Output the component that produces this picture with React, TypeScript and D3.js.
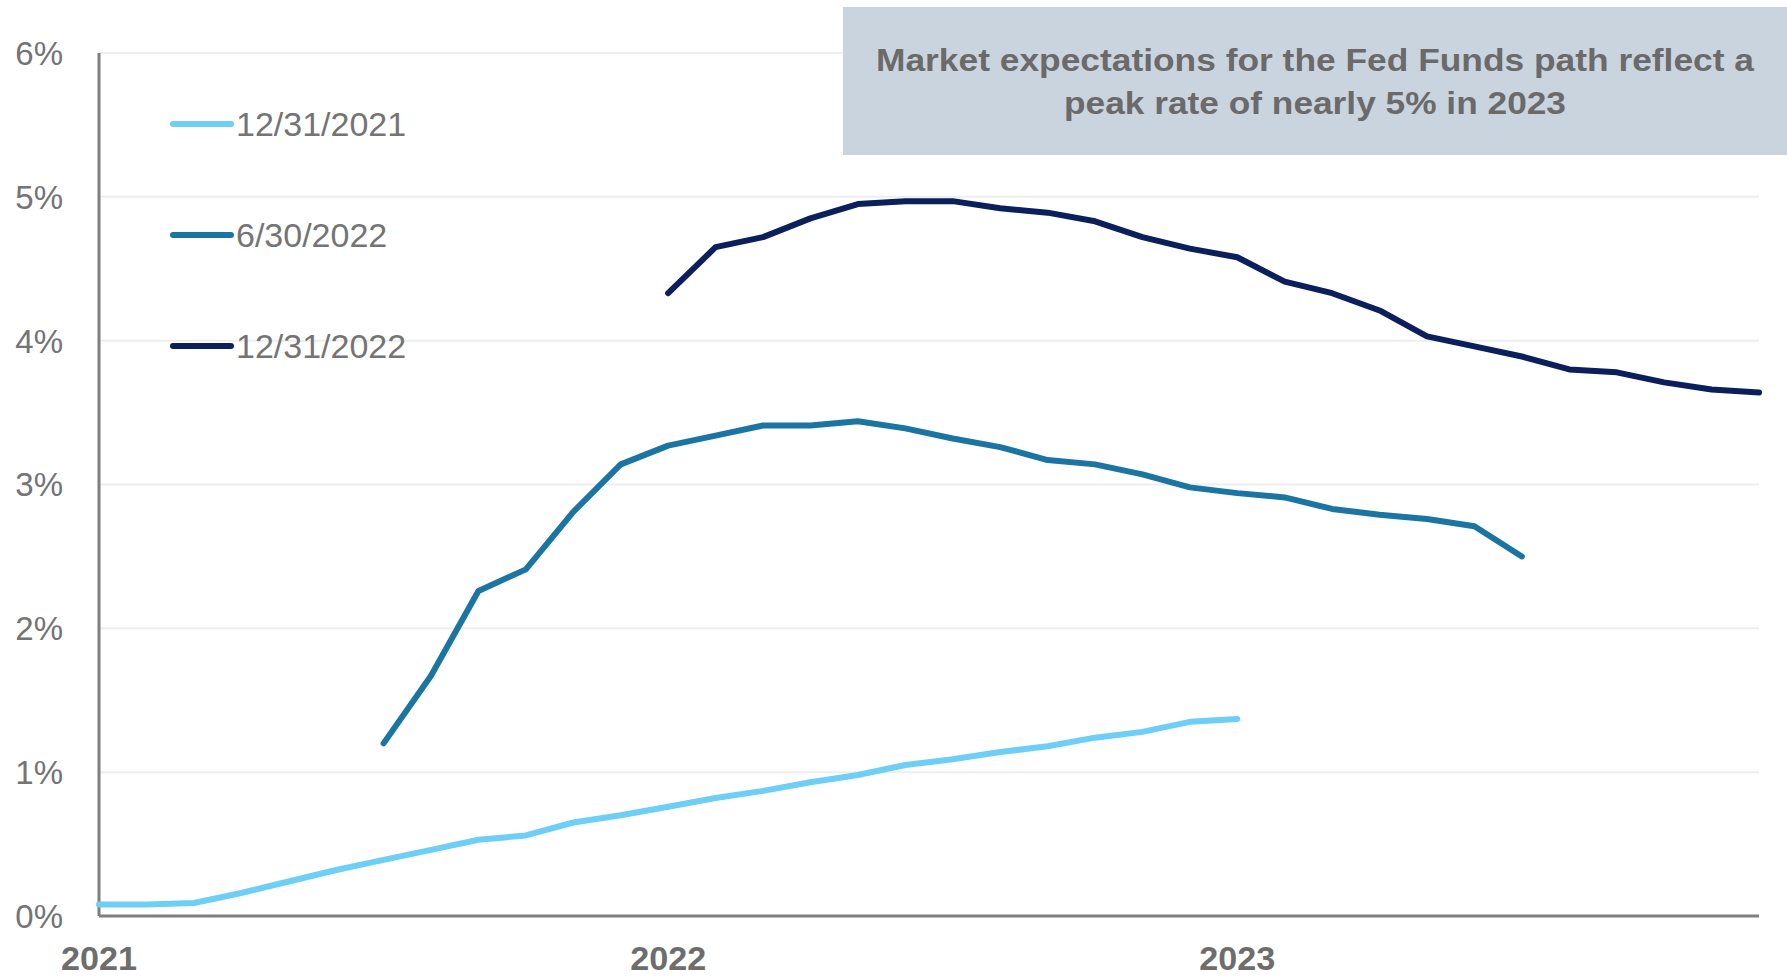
import React, { useEffect, useRef } from 'react';
import * as d3 from 'd3';

const width = 1787;
const height = 980;
const margin = { top: 53, right: 28, bottom: 64, left: 99 };

// monthly x categories
const months = [
  '2021-01', '2021-02', '2021-03', '2021-04', '2021-05', '2021-06',
  '2021-07', '2021-08', '2021-09', '2021-10', '2021-11', '2021-12',
  '2022-01', '2022-02', '2022-03', '2022-04', '2022-05', '2022-06',
  '2022-07', '2022-08', '2022-09', '2022-10', '2022-11', '2022-12',
  '2023-01', '2023-02', '2023-03', '2023-04', '2023-05', '2023-06',
  '2023-07', '2023-08', '2023-09', '2023-10', '2023-11', '2023-12',
];
const yearTicks = ['2021-01', '2022-01', '2023-01'];
const yearLabels = ['2021', '2022', '2023'];
const yTicks = [0, 1, 2, 3, 4, 5, 6];

const seriesNames = ['12/31/2021', '6/30/2022', '12/31/2022'];
const seriesColors = ['#6dcff6', '#1b75a2', '#0a1f5c'];

// curve as of 12/31/2021, starts 2021-01
const dec2021Start = '2021-01';
const dec2021 = [
  0.08, 0.08, 0.09, 0.16, 0.24, 0.32, 0.39, 0.46, 0.53, 0.56, 0.65, 0.70,
  0.76, 0.82, 0.87, 0.93, 0.98, 1.05, 1.09, 1.14, 1.18, 1.24, 1.28, 1.35, 1.37,
];
// curve as of 6/30/2022, starts 2021-07
const jun2022Start = '2021-07';
const jun2022 = [
  1.20, 1.67, 2.26, 2.41, 2.81, 3.14, 3.27, 3.34, 3.41, 3.41, 3.44, 3.39,
  3.32, 3.26, 3.17, 3.14, 3.07, 2.98, 2.94, 2.91, 2.83, 2.79, 2.76, 2.71, 2.50,
];
// curve as of 12/31/2022, starts 2022-01
const dec2022Start = '2022-01';
const dec2022 = [
  4.33, 4.65, 4.72, 4.85, 4.95, 4.97, 4.97, 4.92, 4.89, 4.83, 4.72, 4.64,
  4.58, 4.41, 4.33, 4.21, 4.03, 3.96, 3.89, 3.80, 3.78, 3.71, 3.66, 3.64,
];

const titleLines = [
  'Market expectations for the Fed Funds path reflect a',
  'peak rate of nearly 5% in 2023',
];

const labelFont = '"Liberation Sans", Arial, sans-serif';
const narrowFont = '"Liberation Sans Narrow", "Liberation Sans", Arial, sans-serif';

export default function App() {
  const ref = useRef<SVGSVGElement>(null);

  useEffect(() => {
    const svg = d3.select(ref.current);
    svg.selectAll('*').remove();

    const x = d3
      .scalePoint<string>()
      .domain(months)
      .range([margin.left, width - margin.right]);
    const y = d3
      .scaleLinear()
      .domain([0, 6])
      .range([height - margin.bottom, margin.top]);

    // gridlines
    svg
      .append('g')
      .selectAll('line')
      .data(yTicks.filter(d => d > 0))
      .join('line')
      .attr('x1', margin.left)
      .attr('x2', width - margin.right)
      .attr('y1', d => y(d))
      .attr('y2', d => y(d))
      .attr('stroke', '#eeeeee')
      .attr('stroke-width', 2);

    // y labels
    svg
      .append('g')
      .selectAll('text')
      .data(yTicks)
      .join('text')
      .attr('x', 63)
      .attr('y', d => y(d))
      .attr('dy', '0.36em')
      .attr('text-anchor', 'end')
      .attr('font-family', labelFont)
      .attr('font-size', 33)
      .attr('fill', '#747474')
      .text(d => d + '%');

    // x labels
    svg
      .append('g')
      .selectAll('text')
      .data(yearTicks)
      .join('text')
      .attr('x', d => x(d))
      .attr('y', 970)
      .attr('text-anchor', 'middle')
      .attr('font-family', labelFont)
      .attr('font-weight', 'bold')
      .attr('font-size', 33)
      .attr('fill', '#6d6d6d')
      .attr('textLength', 76)
      .attr('lengthAdjust', 'spacingAndGlyphs')
      .text((d, i) => yearLabels[i]);

    // axes
    svg
      .append('line')
      .attr('x1', margin.left)
      .attr('x2', margin.left)
      .attr('y1', y(6))
      .attr('y2', y(0))
      .attr('stroke', '#7f7f7f')
      .attr('stroke-width', 3);
    svg
      .append('line')
      .attr('x1', margin.left)
      .attr('x2', width - margin.right)
      .attr('y1', y(0))
      .attr('y2', y(0))
      .attr('stroke', '#7f7f7f')
      .attr('stroke-width', 3);

    const series = [
      { start: dec2021Start, values: dec2021 },
      { start: jun2022Start, values: jun2022 },
      { start: dec2022Start, values: dec2022 },
    ];

    const line = d3
      .line<{ m: string; v: number }>()
      .x(d => x(d.m) as number)
      .y(d => y(d.v));

    series.forEach((s, i) => {
      const offset = months.indexOf(s.start);
      const pts = s.values.map((v, j) => ({ m: months[offset + j], v }));
      svg
        .append('path')
        .datum(pts)
        .attr('d', line)
        .attr('fill', 'none')
        .attr('stroke', seriesColors[i])
        .attr('stroke-width', 6)
        .attr('stroke-linecap', 'round')
        .attr('stroke-linejoin', 'round');
    });

    // legend
    const legend = svg.append('g');
    seriesNames.forEach((name, i) => {
      const ly = 124 + i * 111;
      legend
        .append('line')
        .attr('x1', 173)
        .attr('x2', 231)
        .attr('y1', ly)
        .attr('y2', ly)
        .attr('stroke', seriesColors[i])
        .attr('stroke-width', 6)
        .attr('stroke-linecap', 'round');
      legend
        .append('text')
        .attr('x', 236)
        .attr('y', ly)
        .attr('dy', '0.36em')
        .attr('font-family', labelFont)
        .attr('font-size', 34)
        .attr('fill', '#747474')
        .text(name);
    });

    // title box
    const tb = svg.append('g');
    tb.append('rect')
      .attr('x', 843)
      .attr('y', 7)
      .attr('width', width - 843)
      .attr('height', 148)
      .attr('fill', '#cad4df');
    const widths = [878, 502];
    titleLines.forEach((t, i) => {
      tb.append('text')
        .attr('x', (843 + width) / 2)
        .attr('y', 71 + i * 43)
        .attr('text-anchor', 'middle')
        .attr('font-family', narrowFont)
        .attr('font-weight', 'bold')
        .attr('font-size', 31)
        .attr('fill', '#6a6a6a')
        .attr('textLength', widths[i])
        .attr('lengthAdjust', 'spacingAndGlyphs')
        .text(t);
    });
  }, []);

  return (
    <svg
      ref={ref}
      width={width}
      height={height}
      style={{ position: 'absolute', left: 0, top: 0, background: '#fff' }}
    />
  );
}
